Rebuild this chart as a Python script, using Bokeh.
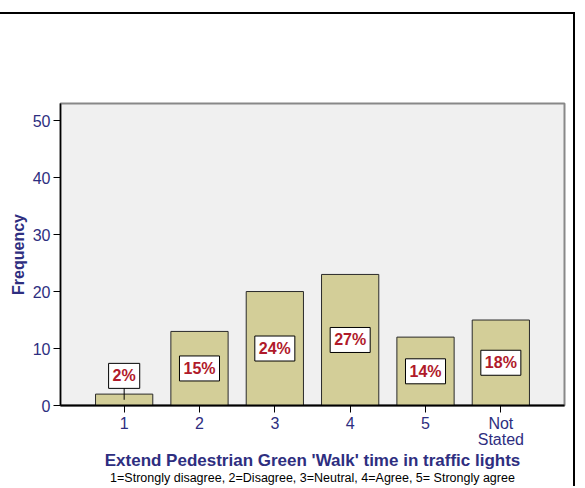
from bokeh.plotting import figure
from bokeh.models import (ColumnDataSource, FactorRange, Range1d, FixedTicker, CategoricalAxis)
from bokeh.core.properties import value
from bokeh.embed import file_html
from bokeh.resources import INLINE

# ---- data ----
categories = ["1", "2", "3", "4", "5", "Not\nStated"]
frequency = [2, 13, 20, 23, 12, 15]
y_ticks = [0, 10, 20, 30, 40, 50]
x_title = "Extend Pedestrian Green 'Walk' time in traffic lights"
x_subtitle = "1=Strongly disagree, 2=Disagree, 3=Neutral, 4=Agree, 5= Strongly agree"

total = sum(frequency)
pct_text = ["%d%%" % round(v / total * 100) for v in frequency]
label_y = [v / 2 if v >= 5 else v + 3.2 for v in frequency]

src = ColumnDataSource(dict(cat=categories, freq=frequency, txt=pct_text, ly=label_y))

NAVY = "#2e2e80"
FONT = "Liberation Sans"

W, H = 573, 472
p = figure(width=W, height=H, output_backend="svg", toolbar_location=None,
           x_range=FactorRange(*categories, range_padding=0.345, range_padding_units="absolute"),
           y_range=Range1d(0, 53),
           min_border_left=60, min_border_right=11, min_border_top=89, min_border_bottom=83)
p.styles = {"box-sizing": "content-box", "margin-top": "12px",
            "border-top": "2px solid black", "border-right": "2px solid black"}

p.background_fill_color = "#f0f0f0"
p.border_fill_color = "white"
p.outline_line_color = "#888888"
p.outline_line_width = 2
p.xgrid.visible = False
p.ygrid.visible = False

p.vbar(x="cat", top="freq", width=0.76, source=src,
       fill_color="#d3ce98", line_color="#2a2a2a", line_width=1)

# leader line for small bar label
small = [c for c, v in zip(categories, frequency) if v < 5]
p.segment(x0=small, y0=[v / 2 for v in frequency if v < 5],
          x1=small, y1=[v + 3.2 - 2.0 for v in frequency if v < 5],
          line_color="black", line_width=1)

p.text(x="cat", y="ly", text="txt", source=src,
       text_align="center", text_baseline="middle",
       text_font=value(FONT), text_font_style="bold", text_font_size="16px",
       text_color="#b01a2a",
       background_fill_color="white", border_line_color="black",
       border_line_width=1, padding=4)

# axes
xax = p.xaxis[0]
yax = p.yaxis[0]
yax.ticker = FixedTicker(ticks=y_ticks)
yax.minor_tick_line_color = None
for ax in (xax, yax):
    ax.major_tick_in = 0
    ax.major_tick_out = 7
    ax.major_tick_line_color = "black"
    ax.axis_line_color = "black"
    ax.major_label_text_font = FONT
    ax.major_label_text_font_size = "16px"
    ax.major_label_text_color = NAVY
    ax.axis_label_text_font = FONT
    ax.axis_label_text_font_style = "bold"
    ax.axis_label_text_color = NAVY
xax.axis_line_width = 2
yax.axis_line_width = 1.5
yax.major_label_standoff = 3
xax.major_label_standoff = 2
xax.major_label_text_line_height = 0.95

yax.axis_label = "Frequency"
yax.axis_label_text_font_size = "16px"
yax.axis_label_standoff = 3

xax.axis_label = x_title
xax.axis_label_text_font_size = "17px"
xax.axis_label_standoff = 0
xax.axis_label_text_line_height = 1.0

# second (label-only) axis below carrying the explanatory note; it has no ticks
note_ax = CategoricalAxis(ticker=FixedTicker(ticks=[]),
                          axis_label=x_subtitle,
                          axis_label_text_font=FONT, axis_label_text_font_size="12.5px",
                          axis_label_text_font_style="normal", axis_label_text_color="black",
                          axis_label_standoff=-2, axis_label_text_line_height=1.0,
                          axis_line_color=None, major_tick_line_color=None,
                          minor_tick_line_color=None, major_tick_in=0, major_tick_out=0,
                          major_label_standoff=0)
p.add_layout(note_ax, "below")

open("out.html", "w").write(file_html(p, INLINE))
